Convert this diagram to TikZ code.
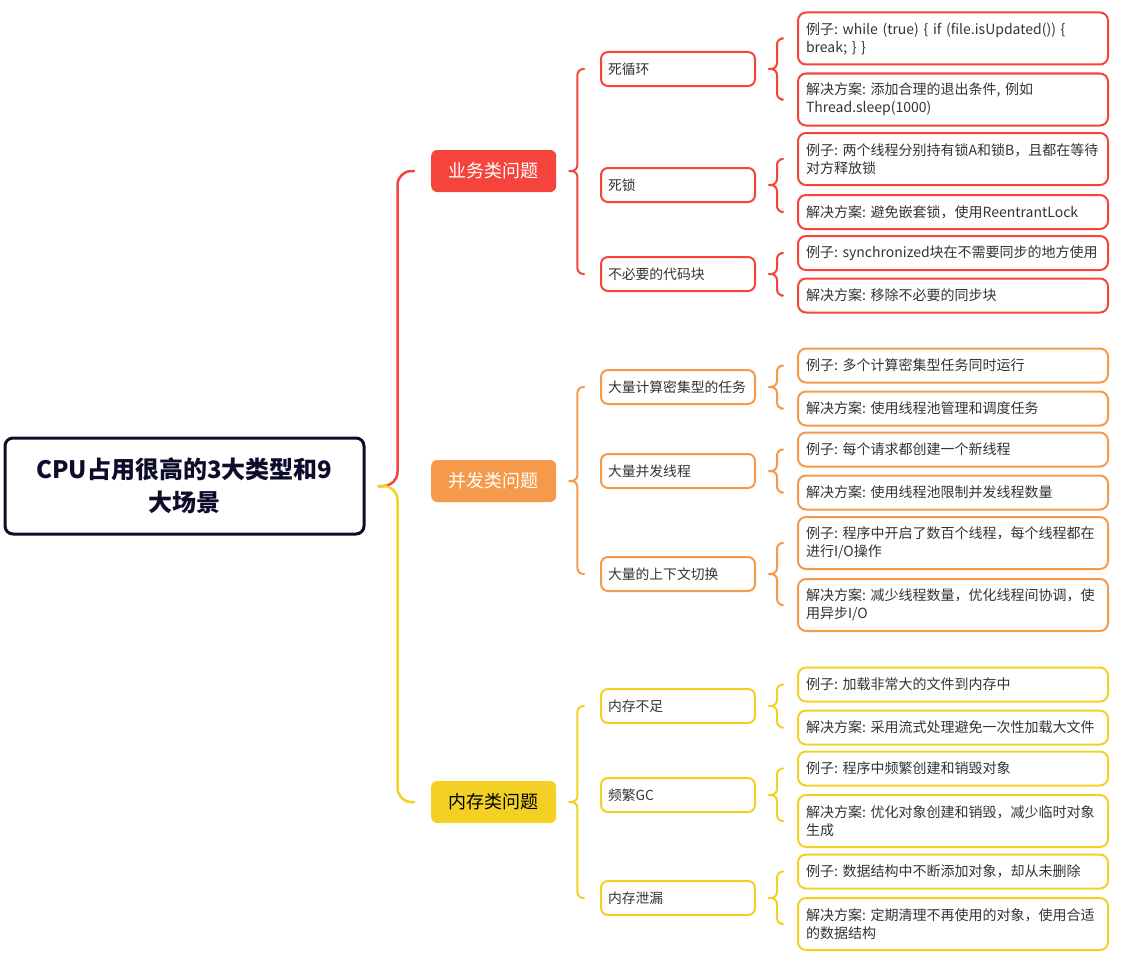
\documentclass[tikz,border=0pt]{standalone}
\usepackage{fontspec}
\setmainfont{Noto Sans CJK SC}
\usetikzlibrary{calc}
\definecolor{rootblue}{HTML}{0D0C2B}
\definecolor{bizred}{HTML}{F5443B}
\definecolor{concorange}{HTML}{F59A4B}
\definecolor{memyellow}{HTML}{F2D124}
\definecolor{txt}{HTML}{333333}
\newcommand\bracelink[4]{%
	\draw[link,#1] ($(#2.east)+(13,0)$) -- ($(#2.east)+(21,0)$) |- ($(#3.west)+(-16,0)$);
	\draw[link,#1] ($(#2.east)+(13,0)$) -- ($(#2.east)+(21,0)$) |- ($(#4.west)+(-16,0)$);}
\begin{document}
\frenchspacing
\begin{tikzpicture}[x=1pt,y=-1pt,line join=round,line cap=round,
	root/.style={draw=rootblue,line width=3pt,rounded corners=8pt,minimum width=359pt,
		minimum height=96pt,align=center,text=rootblue,font=\fontsize{24}{33}\selectfont\bfseries},
	cat/.style={fill=#1,rounded corners=6pt,minimum width=125pt,minimum height=42pt,
		text=white,font=\fontsize{18}{20}\selectfont},
	sub/.style={draw=#1,line width=2pt,rounded corners=7pt,minimum height=34pt,text width=140pt,
		inner xsep=7pt,inner ysep=2pt,align=left,text=txt,font=\fontsize{13.8}{18}\selectfont},
	leaf/.style={draw=#1,line width=2pt,rounded corners=8pt,minimum height=34pt,text width=294pt,
		inner xsep=8pt,inner ysep=2pt,align=left,text=txt,font=\fontsize{14}{18}\selectfont},
	two/.style={minimum height=52pt},
	link/.style={line width=2pt,rounded corners=6pt}]
	\useasboundingbox (0,0) rectangle (1132,958);
	\node[root] (root) at (184.5,486) {CPU占用很高的3大类型和9\\大场景};
	\node[cat=bizred,anchor=west] (biz) at (431,171) {业务类问题};
	\node[cat=concorange,anchor=west] (conc) at (431,481) {并发类问题};
	\node[cat=memyellow,anchor=west,text=black] (mem) at (431,802) {内存类问题};
	\node[sub=bizred,anchor=west] (loop) at (600,69) {死循环};
	\node[sub=bizred,anchor=west] (dlock) at (600,185) {死锁};
	\node[sub=bizred,anchor=west] (sync) at (600,274) {不必要的代码块};
	\node[sub=concorange,anchor=west] (cpuTask) at (600,387) {大量计算密集型的任务};
	\node[sub=concorange,anchor=west] (manyThr) at (600,471) {大量并发线程};
	\node[sub=concorange,anchor=west] (ctxSw) at (600,574) {大量的上下文切换};
	\node[sub=memyellow,anchor=west] (oom) at (600,706) {内存不足};
	\node[sub=memyellow,anchor=west] (gc) at (600,795) {频繁GC};
	\node[sub=memyellow,anchor=west] (leak) at (600,898) {内存泄漏};
	\node[leaf=bizred,two,anchor=west] (loopEx) at (797,38.5) {例子: while (true) \{ if (file.isUpdated()) \{\\break; \} \}};
	\node[leaf=bizred,two,anchor=west] (loopFix) at (797,99.5) {解决方案: 添加合理的退出条件, 例如\\Thread.sleep(1000)};
	\node[leaf=bizred,two,anchor=west] (dlockEx) at (797,159) {例子:~两个线程分别持有锁A和锁B，且都在等待\\对方释放锁};
	\node[leaf=bizred,anchor=west] (dlockFix) at (797,212) {解决方案: 避免嵌套锁，使用ReentrantLock};
	\node[leaf=bizred,anchor=west] (syncEx) at (797,253) {例子:~synchronized块在不需要同步的地方使用};
	\node[leaf=bizred,anchor=west] (syncFix) at (797,295.5) {解决方案: 移除不必要的同步块};
	\node[leaf=concorange,anchor=west] (cpuTaskEx) at (797,365.5) {例子: 多个计算密集型任务同时运行};
	\node[leaf=concorange,anchor=west] (cpuTaskFix) at (797,408.5) {解决方案: 使用线程池管理和调度任务};
	\node[leaf=concorange,anchor=west] (manyThrEx) at (797,449.5) {例子: 每个请求都创建一个新线程};
	\node[leaf=concorange,anchor=west] (manyThrFix) at (797,492.5) {解决方案: 使用线程池限制并发线程数量};
	\node[leaf=concorange,two,anchor=west] (ctxSwEx) at (797,543) {例子:~程序中开启了数百个线程，每个线程都在\\进行I/O操作};
	\node[leaf=concorange,two,anchor=west] (ctxSwFix) at (797,605) {解决方案:~减少线程数量，优化线程间协调，使\\用异步I/O};
	\node[leaf=memyellow,anchor=west] (oomEx) at (797,684.5) {例子: 加载非常大的文件到内存中};
	\node[leaf=memyellow,anchor=west] (oomFix) at (797,727.5) {解决方案: 采用流式处理避免一次性加载大文件};
	\node[leaf=memyellow,anchor=west] (gcEx) at (797,768.5) {例子: 程序中频繁创建和销毁对象};
	\node[leaf=memyellow,two,anchor=west] (gcFix) at (797,821) {解决方案:~优化对象创建和销毁，减少临时对象\\生成};
	\node[leaf=memyellow,anchor=west] (leakEx) at (797,871.5) {例子: 数据结构中不断添加对象，却从未删除};
	\node[leaf=memyellow,two,anchor=west] (leakFix) at (797,924) {解决方案:~定期清理不再使用的对象，使用合适\\的数据结构};
	\draw[link,bizred,line width=2.5pt,rounded corners=14pt] ($(root.east)+(13,0)$) -- ($(root.east)+(32,0)$) |- ($(biz.west)+(-17,0)$);
	\draw[link,memyellow,line width=2.5pt,rounded corners=14pt] ($(root.east)+(13,0)$) -- ($(root.east)+(32,0)$) |- ($(mem.west)+(-17,0)$);
	\bracelink{bizred}{biz}{loop}{sync}
	\bracelink{concorange}{conc}{cpuTask}{ctxSw}
	\bracelink{memyellow}{mem}{oom}{leak}
	\bracelink{bizred}{loop}{loopEx}{loopFix}
	\bracelink{bizred}{dlock}{dlockEx}{dlockFix}
	\bracelink{bizred}{sync}{syncEx}{syncFix}
	\bracelink{concorange}{cpuTask}{cpuTaskEx}{cpuTaskFix}
	\bracelink{concorange}{manyThr}{manyThrEx}{manyThrFix}
	\bracelink{concorange}{ctxSw}{ctxSwEx}{ctxSwFix}
	\bracelink{memyellow}{oom}{oomEx}{oomFix}
	\bracelink{memyellow}{gc}{gcEx}{gcFix}
	\bracelink{memyellow}{leak}{leakEx}{leakFix}
\end{tikzpicture}
\end{document}
